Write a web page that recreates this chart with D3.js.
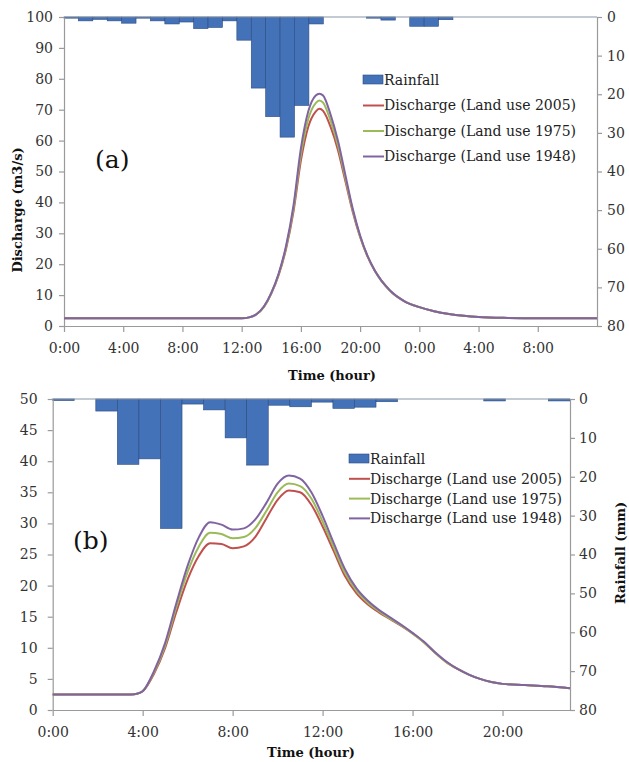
<!DOCTYPE html>
<html><head><meta charset="utf-8">
<script src="https://cdn.jsdelivr.net/npm/d3@7"></script>
<style>
html,body{margin:0;padding:0;background:#fff;}
svg{display:block;}
text{font-family:"DejaVu Serif",serif;}
</style></head>
<body>
<svg id="chart" width="629" height="762"></svg>
<script>
// ---------- Panel (a) data ----------
const rainA = [0.3,1.0,0.6,1.0,1.6,0.3,1.0,1.8,1.3,3.0,2.7,1.0,6.0,18.4,25.8,31.1,22.9,1.8,0,0,0,0.3,0.8,0,2.4,2.4,0.7,0,0,0,0,0,0,0,0,0,0];
const timeA  = [0,2,4,6,8,10,12,12.5,13,13.5,14,14.5,15,15.5,16,16.5,17,17.25,17.5,18,18.5,19,19.5,20,20.5,21,22,23,24,25,26,27,28,30,32,36];
const q2005A = [2.5,2.5,2.5,2.5,2.5,2.5,2.5,2.8,3.8,6.2,10.5,16.5,25,37,53.5,64.5,69.4,70.3,69.6,64.5,57,47,37,28.8,22.5,17.8,11.5,8,6.1,4.8,3.9,3.3,2.9,2.6,2.5,2.5];
const q1975A = [2.5,2.5,2.5,2.5,2.5,2.5,2.5,2.8,3.8,6.2,10.6,16.8,25.5,38,55.5,67,72.1,73.0,72.3,66.5,58.5,48,37.5,29.0,22.6,17.8,11.5,8,6.1,4.8,3.9,3.3,2.9,2.6,2.5,2.5];
const q1948A = [2.5,2.5,2.5,2.5,2.5,2.5,2.5,2.8,3.8,6.3,10.7,17.0,26,39,57.5,69.5,74.6,75.2,74.6,68.5,60,49,38,29.3,22.7,17.9,11.6,8,6.1,4.8,3.9,3.3,2.9,2.6,2.5,2.5];
const xTicksA = [0,4,8,12,16,20,24,28,32];
const xLabelsA = ["0:00","4:00","8:00","12:00","16:00","20:00","0:00","4:00","8:00"];
const yTicksA = [0,10,20,30,40,50,60,70,80,90,100];

// ---------- Panel (b) data ----------
const rainB = [0.4,0,3.1,16.8,15.4,33.3,1.3,2.8,10.0,17.0,1.6,2.0,0.8,2.4,2.1,0.7,0,0,0,0,0.5,0,0,0.5];
const timeB  = [0,1,2,3,3.5,3.75,4,4.5,5,5.5,6,6.5,7,7.5,8,8.5,9,9.5,10,10.5,11,11.5,12,12.5,13,13.5,14,14.5,15,15.5,16,16.5,17,17.5,18,18.5,19,19.5,20,21,22,23];
const q2005B = [2.5,2.5,2.5,2.5,2.5,2.6,3.0,5.8,10.0,15.8,21.0,24.8,26.8,26.7,26.0,26.3,27.8,30.8,33.8,35.3,35.0,33.0,29.5,25.5,21.5,18.8,17.0,15.7,14.6,13.5,12.3,10.9,9.2,7.7,6.6,5.7,5.0,4.5,4.2,4.0,3.8,3.5];
const q1975B = [2.5,2.5,2.5,2.5,2.5,2.6,3.0,6.0,10.4,16.6,22.2,26.3,28.5,28.3,27.6,27.8,29.2,32.0,35.0,36.4,36.0,34.0,30.3,26.1,22.0,19.2,17.3,15.9,14.7,13.6,12.3,10.9,9.2,7.7,6.6,5.7,5.0,4.5,4.2,4.0,3.8,3.5];
const q1948B = [2.5,2.5,2.5,2.5,2.5,2.6,3.0,6.2,10.8,17.2,23.2,27.8,30.2,29.8,29.0,29.2,30.6,33.3,36.4,37.7,37.2,35.0,31.2,26.8,22.6,19.6,17.6,16.1,14.9,13.7,12.4,11.0,9.3,7.8,6.6,5.7,5.0,4.5,4.2,4.0,3.8,3.5];
const xTicksB = [0,4,8,12,16,20];
const xLabelsB = ["0:00","4:00","8:00","12:00","16:00","20:00"];
const yTicksB = [0,5,10,15,20,25,30,35,40,45,50];

const rainTicks = [0,10,20,30,40,50,60,70,80];
const seriesNames = ["Discharge (Land use 2005)","Discharge (Land use 1975)","Discharge (Land use 1948)"];
const seriesColors = ["#C0504D","#9BBB59","#8064A2"];

const svg = d3.select("#chart");
svg.append("rect").attr("width",629).attr("height",762).attr("fill","#fff");

function panel(cfg){
  const g = svg.append("g");
  const x = d3.scaleLinear().domain(cfg.xDomain).range([cfg.left,cfg.right]);
  const y = d3.scaleLinear().domain(cfg.yDomain).range([cfg.bottom,cfg.top]);
  const yR = d3.scaleLinear().domain([0,80]).range([cfg.top,cfg.bottom]);
  const xb = d3.scaleBand().domain(d3.range(cfg.rain.length)).range([cfg.left,cfg.right]).padding(0);
  const axisCol = "#9a9a9a";
  const tickCol = "#333";

  // bars
  g.append("g").selectAll("rect").data(cfg.rain).join("rect")
    .attr("x",(d,i)=>xb(i)).attr("y",yR(0))
    .attr("width",xb.bandwidth()).attr("height",d=>yR(d)-yR(0))
    .attr("fill","#4472B9").attr("stroke","#2A4A7F").attr("stroke-width",0.6);

  // axes
  const ax = d3.axisBottom(x).tickValues(cfg.xTicks).tickFormat((d,i)=>cfg.xLabels[i]).tickSize(6).tickSizeOuter(0);
  const gx = g.append("g").attr("transform",`translate(0,${cfg.bottom})`).call(ax);
  const ay = d3.axisLeft(y).tickValues(cfg.yTicks).tickSize(5).tickSizeOuter(0);
  const gy = g.append("g").attr("transform",`translate(${cfg.left},0)`).call(ay);
  const ar = d3.axisRight(yR).tickValues(rainTicks).tickSize(5).tickSizeOuter(0);
  const gr = g.append("g").attr("transform",`translate(${cfg.right},0)`).call(ar);
  [gx,gy,gr].forEach(a=>{
    a.select(".domain").attr("stroke",axisCol).attr("stroke-width",1.2);
    a.selectAll(".tick line").attr("stroke",axisCol).attr("stroke-width",1.2);
    a.selectAll(".tick text").attr("fill",tickCol).attr("font-size",14).attr("font-family","DejaVu Serif, serif");
  });
  gx.selectAll(".tick text").attr("dy",cfg.xLabelDy);
  gy.selectAll(".tick text").attr("x",-cfg.yLabelGap);
  gr.selectAll(".tick text").attr("x",cfg.rLabelGap);
  // top line (rain category axis)
  g.append("line").attr("x1",cfg.left).attr("x2",cfg.right).attr("y1",cfg.top).attr("y2",cfg.top)
    .attr("stroke","#8a96a8").attr("stroke-width",1.2);

  // lines
  const series = [cfg.q2005,cfg.q1975,cfg.q1948];
  const line = d3.line().x((d,i)=>x(cfg.time[i])).y(d=>y(d)).curve(d3.curveMonotoneX);
  series.forEach((s,k)=>{
    g.append("path").datum(s).attr("d",line).attr("fill","none")
      .attr("stroke",seriesColors[k]).attr("stroke-width",2);
  });

  // legend
  const lg = g.append("g").attr("transform",`translate(${cfg.legX},${cfg.legY})`);
  lg.append("rect").attr("x",0).attr("y",-5).attr("width",20).attr("height",9).attr("fill","#4472B9").attr("stroke","#2A4A7F").attr("stroke-width",0.6);
  lg.append("text").attr("x",21).attr("y",0).attr("dy","0.35em").attr("font-size",14).attr("fill","#222").text("Rainfall");
  seriesNames.forEach((n,k)=>{
    const yy = (k+1)*cfg.legStep;
    lg.append("line").attr("x1",0).attr("x2",21).attr("y1",yy).attr("y2",yy).attr("stroke",seriesColors[k]).attr("stroke-width",2);
    lg.append("text").attr("x",21).attr("y",yy).attr("dy","0.35em").attr("font-size",14).attr("fill","#222").text(n);
  });

  // panel label
  g.append("text").attr("x",cfg.labX).attr("y",cfg.labY).attr("font-size",25).attr("fill","#111").text(cfg.label);

  // x title
  g.append("text").attr("x",cfg.xtX).attr("y",cfg.xtY).attr("text-anchor","middle")
    .attr("font-size",13).attr("font-weight","bold").attr("fill","#111").text("Time (hour)");
  if(cfg.yTitle){
    g.append("text").attr("transform",`translate(${cfg.ytX},${cfg.ytY}) rotate(-90)`).attr("text-anchor","middle")
      .attr("font-size",13).attr("font-weight","bold").attr("fill","#111").text(cfg.yTitle);
  }
  if(cfg.rTitle){
    g.append("text").attr("transform",`translate(${cfg.rtX},${cfg.rtY}) rotate(-90)`).attr("text-anchor","middle")
      .attr("font-size",13).attr("font-weight","bold").attr("fill","#111").text(cfg.rTitle);
  }
}

panel({
  left:64,right:597,top:17,bottom:326,
  xDomain:[0,36],yDomain:[0,100],
  rain:rainA,time:timeA,q2005:q2005A,q1975:q1975A,q1948:q1948A,
  xTicks:xTicksA,xLabels:xLabelsA,yTicks:yTicksA,
  xLabelDy:"1.25em",yLabelGap:11,rLabelGap:10,
  legX:363,legY:80,legStep:25.5,
  label:"(a)",labX:95,labY:168,
  xtX:332,xtY:380,
  yTitle:"Discharge (m3/s)",ytX:22,ytY:210
});
panel({
  left:52.7,right:570,top:399,bottom:710,
  xDomain:[0,23],yDomain:[0,50],
  rain:rainB,time:timeB,q2005:q2005B,q1975:q1975B,q1948:q1948B,
  xTicks:xTicksB,xLabels:xLabelsB,yTicks:yTicksB,
  xLabelDy:"1.25em",yLabelGap:15,rLabelGap:9,
  legX:349,legY:459,legStep:19.8,
  label:"(b)",labX:73,labY:549,
  xtX:311,xtY:757,
  rTitle:"Rainfall (mm)",rtX:625,rtY:553
});
</script>
</body></html>
